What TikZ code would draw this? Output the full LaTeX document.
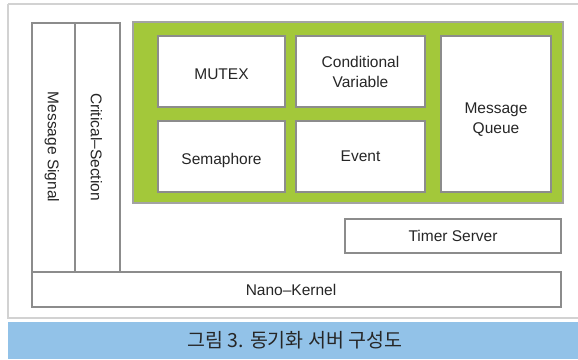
\documentclass[tikz,border=0pt]{standalone}
\usepackage{fontspec}
\setmainfont{Liberation Sans}
\newfontfamily\krfont{Noto Sans CJK KR}
\usetikzlibrary{shadows}
\definecolor{grn}{HTML}{A3C83A}
\definecolor{capblue}{HTML}{92C2E8}
\definecolor{bordergray}{HTML}{8C8C8C}
\definecolor{framegray}{HTML}{D2D2D2}
\tikzset{
  box/.style={draw=bordergray, line width=1.4pt, fill=white,
    drop shadow={opacity=0.25, shadow xshift=0.8pt, shadow yshift=-0.8pt}},
  lbl/.style={font=\fontsize{15.5}{20}\selectfont, align=center, text=black!85, inner sep=0pt},
}
\begin{document}
\begin{tikzpicture}[x=1pt,y=-1pt]
\useasboundingbox (0,0) rectangle (578,359);
\fill[white] (0,0) rectangle (578,359);
% outer frame
\draw[framegray, line width=1.6pt, fill=white] (8,4) -- (580,4) (580,318) -- (8,318) -- (8,4);
% caption band
\fill[capblue] (8,322) rectangle (578,359);
\node[font=\krfont\fontsize{19.5}{22}\selectfont, text=black!85] (cap) at (295,340) {그림 3. 동기화 서버 구성도};
% columns
\draw[box] (32,23) rectangle (75,272);
\draw[box] (75,23) rectangle (120,272);
\node[lbl, rotate=-90] (msig) at (52,147) {Message Signal};
\node[lbl, rotate=-90] (crit) at (96.5,147) {Critical–Section};
% nano kernel
\draw[box] (32,272) rectangle (561,307);
\node[lbl] (nano) at (291,290) {Nano–Kernel};
% green area
\draw[draw=bordergray!80, line width=1.2pt, fill=grn,
  drop shadow={opacity=0.25, shadow xshift=0.8pt, shadow yshift=-0.8pt}] (133,22) rectangle (563,203);
\draw[box] (158,36) rectangle (285,107);
\node[lbl] (mutex) at (221.5,74.5) {MUTEX};
\draw[box] (158,121) rectangle (285,192);
\node[lbl] (sema) at (221.5,160) {Semaphore};
\draw[box] (296,36) rectangle (425,107);
\node[lbl] (cond) at (360.5,72) {Conditional\\Variable};
\draw[box] (296,121) rectangle (425,192);
\node[lbl] (event) at (360.5,156.5) {Event};
\draw[box] (441,36) rectangle (551,192);
\node[lbl] (mq) at (496,120) {Message\\Queue};
% timer server
\draw[box] (345,219) rectangle (561,253);
\node[lbl] (timer) at (453,236) {Timer Server};
\end{tikzpicture}
\end{document}
